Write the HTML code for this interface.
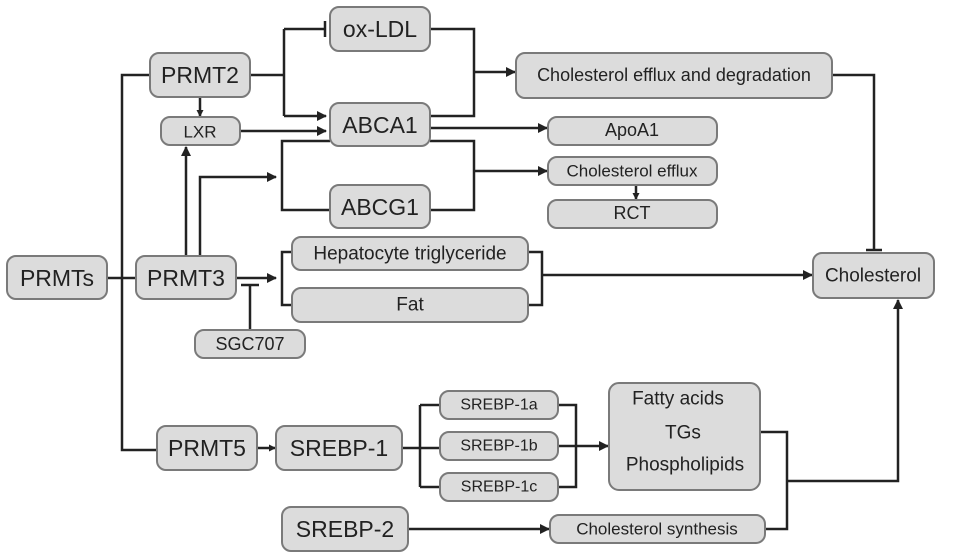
<!DOCTYPE html>
<html><head><meta charset="utf-8"><style>
html,body{margin:0;padding:0;background:#fff;}
svg{display:block;font-family:"Liberation Sans",Arial,sans-serif;}
rect{fill:#dcdcdc;stroke:#7a7a7a;stroke-width:2;}
.l{fill:none;stroke:#222;stroke-width:2.5;}
text{fill:#222;text-anchor:middle;dominant-baseline:central;}
</style></head><body>
<svg width="969" height="559" viewBox="0 0 969 559">
<defs><marker id="a" markerWidth="10" markerHeight="10" refX="9" refY="5" orient="auto" markerUnits="userSpaceOnUse"><path d="M0,0 L10,5 L0,10 z" fill="#222"/></marker>
<marker id="s" markerWidth="7" markerHeight="7" refX="6" refY="3.5" orient="auto" markerUnits="userSpaceOnUse"><path d="M0,0 L7,3.5 L0,7 z" fill="#222"/></marker></defs>
<!-- connectors -->
<path class="l" d="M107,278 H136"/>
<path class="l" d="M150,75 H122 V450 H157"/>
<path class="l" d="M250,75 H284 M284,29 V116"/>
<path class="l" d="M284,29 H325 M325,21 V37"/>
<path class="l" d="M284,116 H326" marker-end="url(#a)"/>
<path class="l" d="M200,97 V116" marker-end="url(#s)"/>
<path class="l" d="M240,131 H326" marker-end="url(#a)"/>
<path class="l" d="M186,256 V147" marker-end="url(#a)"/>
<path class="l" d="M200,256 V177 H276" marker-end="url(#a)"/>
<path class="l" d="M330,141 H282 V210 H330"/>
<path class="l" d="M236,278 H276" marker-end="url(#a)"/>
<path class="l" d="M292,252 H282 V305 H292"/>
<path class="l" d="M250,330 V285 M241,285 H259"/>
<path class="l" d="M430,29 H474 V116 H430 M474,72 H515" marker-end="url(#a)"/>
<path class="l" d="M430,128 H547" marker-end="url(#a)"/>
<path class="l" d="M430,141 H474 V210 H430 M474,171 H547" marker-end="url(#a)"/>
<path class="l" d="M636,185 V199" marker-end="url(#s)"/>
<path class="l" d="M528,252 H542 V305 H528 M542,275 H812" marker-end="url(#a)"/>
<path class="l" d="M832,75 H874 V250 M866,250 H882"/>
<path class="l" d="M257,448 H275" marker-end="url(#s)"/>
<path class="l" d="M402,448 H440 M420,405 V487 M420,405 H440 M420,487 H440"/>
<path class="l" d="M558,405 H576 V487 H558 M558,446 H608" marker-end="url(#a)"/>
<path class="l" d="M408,529 H549" marker-end="url(#a)"/>
<path class="l" d="M760,432 H787 V529 H765 M787,481 H898 V300" marker-end="url(#a)"/>
<!-- boxes -->
<rect x="330" y="7" width="100" height="44" rx="9"/><text x="380" y="29" font-size="23">ox-LDL</text>
<rect x="150" y="53" width="100" height="44" rx="9"/><text x="200" y="75" font-size="23">PRMT2</text>
<rect x="161" y="117" width="79" height="28" rx="9"/><text x="200" y="132" font-size="17">LXR</text>
<rect x="330" y="103" width="100" height="43" rx="9"/><text x="380" y="125" font-size="23">ABCA1</text>
<rect x="330" y="185" width="100" height="43" rx="9"/><text x="380" y="207" font-size="23">ABCG1</text>
<rect x="292" y="237" width="236" height="33" rx="9"/><text x="410" y="254" font-size="19">Hepatocyte triglyceride</text>
<rect x="292" y="288" width="236" height="34" rx="9"/><text x="410" y="305" font-size="19">Fat</text>
<rect x="7" y="256" width="100" height="43" rx="9"/><text x="57" y="278" font-size="23">PRMTs</text>
<rect x="136" y="256" width="100" height="43" rx="9"/><text x="186" y="278" font-size="23">PRMT3</text>
<rect x="195" y="330" width="110" height="28" rx="9"/><text x="250" y="344" font-size="18">SGC707</text>
<rect x="157" y="426" width="100" height="44" rx="9"/><text x="207" y="448" font-size="23">PRMT5</text>
<rect x="276" y="426" width="126" height="44" rx="9"/><text x="339" y="448" font-size="23">SREBP-1</text>
<rect x="440" y="391" width="118" height="28" rx="9"/><text x="499" y="405" font-size="16">SREBP-1a</text>
<rect x="440" y="432" width="118" height="28" rx="9"/><text x="499" y="446" font-size="16">SREBP-1b</text>
<rect x="440" y="473" width="118" height="28" rx="9"/><text x="499" y="487" font-size="16">SREBP-1c</text>
<rect x="282" y="507" width="126" height="44" rx="9"/><text x="345" y="529" font-size="23">SREBP-2</text>
<rect x="609" y="383" width="151" height="107" rx="10"/>
<text x="678" y="399" font-size="19">Fatty acids</text><text x="683" y="433" font-size="19">TGs</text><text x="685" y="465" font-size="19">Phospholipids</text>
<rect x="550" y="515" width="215" height="28" rx="9"/><text x="657" y="529" font-size="17">Cholesterol synthesis</text>
<rect x="516" y="53" width="316" height="45" rx="9"/><text x="674" y="75" font-size="18">Cholesterol efflux and degradation</text>
<rect x="548" y="117" width="169" height="28" rx="9"/><text x="632" y="130" font-size="18">ApoA1</text>
<rect x="548" y="157" width="169" height="28" rx="9"/><text x="632" y="171" font-size="17">Cholesterol efflux</text>
<rect x="548" y="200" width="169" height="28" rx="9"/><text x="632" y="213" font-size="18">RCT</text>
<rect x="813" y="253" width="121" height="45" rx="9"/><text x="873" y="276" font-size="19">Cholesterol</text>
</svg>
</body></html>
